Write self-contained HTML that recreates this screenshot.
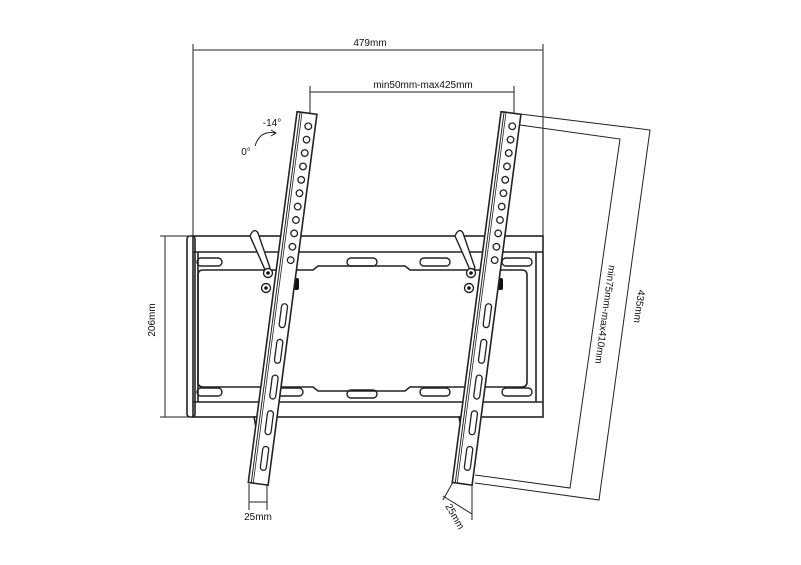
<!DOCTYPE html>
<html><head><meta charset="utf-8"><style>
html,body{margin:0;padding:0;background:#fff;}
svg{display:block;}
text{font-family:"Liberation Sans",sans-serif;font-size:10px;fill:#111;}
</style></head><body>
<svg width="801" height="565" viewBox="0 0 801 565" xmlns="http://www.w3.org/2000/svg">
<g stroke="#222" fill="none" stroke-width="1">
<line x1="193" y1="44" x2="193" y2="236"/>
<line x1="543" y1="44" x2="543" y2="236"/>
<line x1="193" y1="50" x2="543" y2="50"/>
<line x1="310" y1="86" x2="310" y2="113"/>
<line x1="514" y1="86" x2="514" y2="113"/>
<line x1="310" y1="92" x2="514" y2="92"/>
<line x1="165" y1="236" x2="165" y2="417"/>
<line x1="160" y1="236" x2="193" y2="236"/>
<line x1="160" y1="417" x2="193" y2="417"/>
<g stroke-width="1.6">
<rect x="193" y="236" width="350" height="181"/>
<line x1="193" y1="252" x2="543" y2="252"/>
<line x1="193" y1="402" x2="543" y2="402"/>
<rect x="187" y="236" width="8" height="181" rx="3"/>
<line x1="198" y1="252" x2="198" y2="402"/>
<line x1="536" y1="252" x2="536" y2="402"/>
<path d="M203 270 H313 L318 266 H405 L410 270 H522 Q527 270 527 275 V382 Q527 387 522 387 H410 L405 391 H318 L313 387 H203 Q198 387 198 382 V275 Q198 270 203 270 Z"/>
<g stroke-width="1.4">
<rect x="197" y="258" width="25" height="8" rx="4"/>
<rect x="347" y="258" width="30" height="8" rx="4"/>
<rect x="420" y="258" width="30" height="8" rx="4"/>
<rect x="502" y="258" width="30" height="8" rx="4"/>
<rect x="197" y="388" width="25" height="8" rx="4"/>
<rect x="277" y="388" width="26" height="8" rx="4"/>
<rect x="347" y="390" width="30" height="8" rx="4"/>
<rect x="420" y="388" width="30" height="8" rx="4"/>
<rect x="502" y="388" width="30" height="8" rx="4"/>
</g>
</g>
<polyline points="520,114 650,130 599,500 475,483"/>
<polyline points="520,125 620,139 570,488 475,475"/>
<line x1="249" y1="484" x2="249" y2="510"/>
<line x1="267" y1="484" x2="267" y2="510"/>
<line x1="249" y1="502" x2="267" y2="502"/>
<line x1="453" y1="482" x2="443" y2="500"/>
<line x1="472" y1="482" x2="472" y2="520"/>
<line x1="443" y1="496" x2="472" y2="514"/>
<path d="M255 146 Q260 130 275 133"/>
<path d="M271 130 L276 133 L271 136"/>
</g>

<g stroke="#222" stroke-width="1.4" fill="#fff">
<path d="M250 236 Q254 227 258 233 L270 268 L266 272 Z"/>
<circle cx="268" cy="273" r="4.5"/><circle cx="266" cy="288" r="4.5"/>
<path d="M455 236 Q459 227 463 233 L475 268 L471 272 Z"/>
<circle cx="471" cy="273" r="4.5"/><circle cx="469" cy="288" r="4.5"/>
<path d="M254 417 Q258 440 262 455 L266 417 Z"/>
<path d="M459 417 Q463 440 467 455 L471 417 Z"/>
</g>
<g fill="#111">
<rect x="294" y="278" width="5" height="12" rx="2"/>
<rect x="498" y="278" width="5" height="12" rx="2"/>
<circle cx="268" cy="273" r="1.8"/><circle cx="266" cy="288" r="1.8"/>
<circle cx="471" cy="273" r="1.8"/><circle cx="469" cy="288" r="1.8"/>
</g>

<defs>
<g id="br">
<path d="M-10 0 H10 L10 374 H-10 Z" fill="#fff" stroke="#222" stroke-width="1.6"/>
<line x1="-7" y1="0" x2="-7" y2="374" stroke="#222" stroke-width="1"/>
<line x1="-5" y1="0" x2="-5" y2="374" stroke="#222" stroke-width="0.8"/>
<g fill="#fff" stroke="#222" stroke-width="1.3">
<circle cx="3" cy="13" r="3.3"/><circle cx="3" cy="26.5" r="3.3"/><circle cx="3" cy="40" r="3.3"/>
<circle cx="3" cy="53.5" r="3.3"/><circle cx="3" cy="67" r="3.3"/><circle cx="3" cy="80.5" r="3.3"/>
<circle cx="3" cy="94" r="3.3"/><circle cx="3" cy="107.5" r="3.3"/><circle cx="3" cy="121" r="3.3"/>
<circle cx="3" cy="134.5" r="3.3"/><circle cx="3" cy="148" r="3.3"/>
<rect x="0" y="192" width="6" height="24" rx="3"/>
<rect x="0" y="228" width="6" height="24" rx="3"/>
<rect x="0" y="264" width="6" height="24" rx="3"/>
<rect x="0" y="300" width="6" height="24" rx="3"/>
<rect x="0" y="336" width="6" height="24" rx="3"/>
</g>
</g>
</defs>
<use href="#br" transform="translate(307,113) rotate(7.5)"/>
<use href="#br" transform="translate(511,113) rotate(7.5)"/>

<text x="370" y="46" text-anchor="middle">479mm</text>
<text x="423" y="88" text-anchor="middle">min50mm-max425mm</text>
<text x="272" y="126" text-anchor="middle">-14°</text>
<text x="246" y="155" text-anchor="middle">0°</text>
<text x="258" y="520" text-anchor="middle">25mm</text>
<text transform="translate(155,320) rotate(-90)" text-anchor="middle">206mm</text>
<text transform="translate(452,518) rotate(60)" text-anchor="middle">25mm</text>
<text transform="translate(602,314) rotate(98)" text-anchor="middle">min75mm-max410mm</text>
<text transform="translate(636,306) rotate(98)" text-anchor="middle">435mm</text>
</svg>
</body></html>
